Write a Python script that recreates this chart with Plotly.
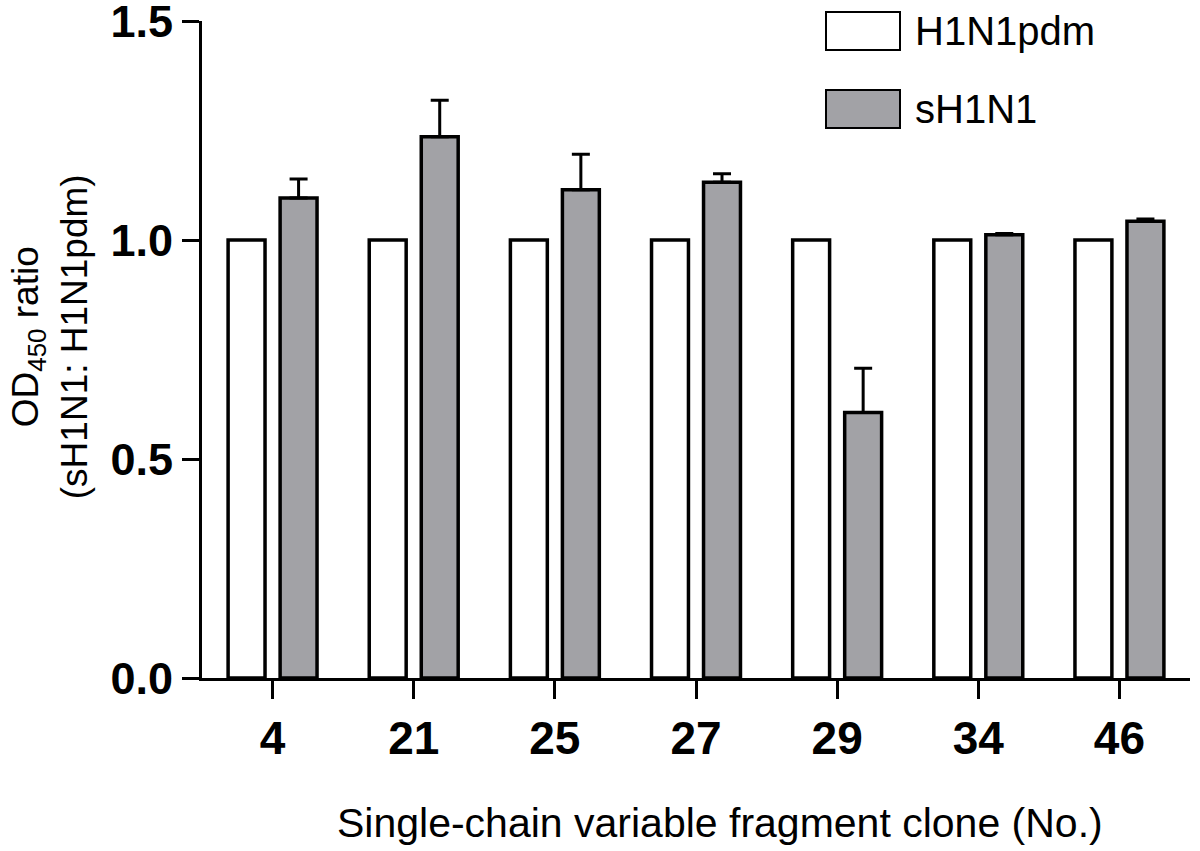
import plotly.graph_objects as go

# clone numbers and OD450 ratios
clones = ["4", "21", "25", "27", "29", "34", "46"]
h1n1pdm = [1.0, 1.0, 1.0, 1.0, 1.0, 1.0, 1.0]
sh1n1 = [1.096, 1.236, 1.115, 1.132, 0.606, 1.012, 1.043]
sh1n1_err = [0.043, 0.083, 0.081, 0.019, 0.101, 0.003, 0.005]
y_ticks = [0.0, 0.5, 1.0, 1.5]
y_tick_text = ["0.0", "0.5", "1.0", "1.5"]

GREY = "#a2a2a6"
FONT = "Liberation Sans, Arial, sans-serif"

fig = go.Figure()

fig.add_trace(go.Bar(
    x=clones, y=h1n1pdm, name="H1N1pdm",
    marker=dict(color="white", line=dict(color="black", width=3.5)),
))
fig.add_trace(go.Bar(
    x=clones, y=sh1n1, name="sH1N1",
    marker=dict(color=GREY, line=dict(color="black", width=3.5)),
    error_y=dict(type="data", array=sh1n1_err, arrayminus=[0] * len(sh1n1_err),
                 symmetric=False, color="black", thickness=3, width=9),
))

T, B = 21, 173
fig.update_layout(
    width=1200, height=851,
    margin=dict(l=202, r=10, t=T, b=B),
    paper_bgcolor="white", plot_bgcolor="white",
    barmode="group", bargap=0.263, bargroupgap=0.29,
    showlegend=False,
    font=dict(family=FONT, color="black"),
)

fig.update_xaxes(
    type="category", range=[-0.5, 6.5], automargin=False,
    showline=True, linecolor="black", linewidth=3,
    ticks="outside", ticklen=18, tickwidth=3, tickcolor="black",
    tickfont=dict(size=46, family=FONT, weight="bold"),
    showgrid=False, zeroline=False,
)
fig.update_yaxes(
    range=[0, 1.5], automargin=False, ticklabeloverflow="allow",
    tickvals=y_ticks, ticktext=y_tick_text,
    showline=True, linecolor="black", linewidth=3,
    ticks="outside", ticklen=17, tickwidth=3, tickcolor="black",
    tickfont=dict(size=45, family=FONT, weight="bold"),
    showgrid=False, zeroline=False,
)

plot_h = 851 - T - B
bottom = 851 - B

# axis titles
fig.add_annotation(
    text="OD<sub>450</sub> ratio<br>(sH1N1: H1N1pdm)",
    xref="paper", yref="paper", x=-0.154, y=0.52,
    xanchor="center", yanchor="middle", textangle=-90,
    showarrow=False, font=dict(size=37, family=FONT),
)
fig.add_annotation(
    text="Single-chain variable fragment clone (No.)",
    xref="paper", yref="paper", x=0.524, y=(bottom - 823) / plot_h,
    xanchor="center", yanchor="middle",
    showarrow=False, font=dict(size=41, family=FONT),
)

# legend drawn by hand (large boxes like the original)
legend_items = [("H1N1pdm", "white"), ("sH1N1", GREY)]
for i, (label, color) in enumerate(legend_items):
    top = 12 + i * 78
    fig.add_shape(
        type="rect", xref="paper", yref="paper",
        x0=(826 - 202) / 988, x1=(900 - 202) / 988,
        y0=(bottom - top) / plot_h, y1=(bottom - top - 38) / plot_h,
        fillcolor=color, line=dict(color="black", width=2),
    )
    fig.add_annotation(
        text=label, xref="paper", yref="paper",
        x=(913 - 202) / 988, y=(bottom - top - 19) / plot_h,
        xanchor="left", yanchor="middle", showarrow=False,
        font=dict(size=40, family=FONT),
    )

# remove the default page margin so the figure sits at the window's corner
fig.write_html("out.html", config={"displayModeBar": False},
               post_script="document.body.style.margin='0';")
